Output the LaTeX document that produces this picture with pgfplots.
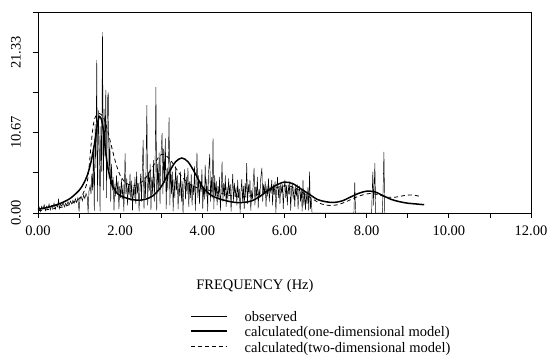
\documentclass[border=0pt]{standalone}
\usepackage{fontspec}
\setmainfont{Liberation Serif}
\usepackage{pgfplots}
\pgfplotsset{compat=1.18}
\newcommand{\lstrut}{\rule[-3.5pt]{0pt}{14.5pt}}
\begin{document}
\begin{tikzpicture}
\useasboundingbox (-38pt,-142pt) rectangle (515pt,213pt);
\begin{axis}[
  at={(0pt,0pt)}, anchor=south west,
  scale only axis, width=493pt, height=201pt,
  xmin=0, xmax=12, ymin=0, ymax=26.667,
  font=\fontsize{14.5}{16}\selectfont,
  /pgf/number format/assume math mode=true,
  axis line style={line width=0.9pt},
  tick style={line width=0.7pt, black},
  tick align=outside, tick pos=left,
  major tick length=5pt, minor tick length=5pt,
  xtick={0,2,4,6,8,10,12},
  xticklabels={0.00,2.00,4.00,6.00,8.00,10.00,12.00},
  minor xtick={1,3,5,7,9,11},
  ytick={0,5.333,10.667,16,21.333,26.667},
  yticklabels={0.00,,10.67,,21.33,},
  yticklabel style={rotate=90, anchor=south, inner sep=0pt},
  xticklabel style={anchor=north, inner sep=0pt},
  xticklabel shift=8pt, yticklabel shift=12pt,
  xlabel={FREQUENCY (Hz)},
  xlabel style={at={(axis description cs:0.44,-0.365)}, anchor=center},
  legend cell align=left,
  legend image code/.code={\draw[#1] (0pt,0.1em) -- (36pt,0.1em);},
  legend style={draw=none, fill=none, inner sep=0pt, row sep=3pt,
    column sep=17pt, nodes={inner sep=0pt},
    at={(axis description cs:0.3083,-0.484)}, anchor=north west,
    font=\fontsize{14.5}{16}\selectfont},
]
% observed
\addplot[black, line width=0.45pt] coordinates {
(0.00,0.4)(0.03,0.8)(0.06,0.2)(0.09,0.9)(0.12,0.5)(0.15,1.1)(0.18,0.3)(0.21,0.9)
(0.24,0.6)(0.27,1.2)(0.30,0.4)(0.33,1.0)(0.36,0.7)(0.39,1.3)(0.42,0.5)(0.45,1.1)
(0.48,0.8)(0.50,1.9)(0.52,0.6)(0.55,1.2)(0.58,0.9)(0.61,1.4)(0.64,0.8)(0.67,1.3)
(0.70,1.0)(0.73,1.5)(0.76,1.1)(0.79,1.6)(0.82,1.2)(0.85,1.7)(0.88,1.3)(0.91,1.9)
(0.94,1.4)(0.97,2.0)(1.00,0.2)(1.02,1.8)(1.05,2.2)(1.08,1.6)(1.11,2.4)(1.14,1.9)
(1.17,2.6)(1.20,2.1)(1.22,0.0)(1.24,2.9)(1.27,3.6)(1.29,2.5)(1.31,5.2)(1.33,3.0)
(1.35,8.5)(1.37,0.3)(1.39,11.8)(1.41,6.0)(1.43,20.3)(1.45,1.5)(1.47,13.6)(1.49,9.2)
(1.51,0.2)(1.53,11.5)(1.55,5.5)(1.57,24.0)(1.59,3.0)(1.61,13.8)(1.63,7.5)(1.65,16.3)
(1.67,2.0)(1.69,15.0)(1.71,16.0)(1.73,4.5)(1.75,9.5)(1.77,1.5)(1.79,6.5)(1.81,3.0)
(1.83,4.8)(1.85,0.3)(1.87,3.9)(1.89,2.2)(1.91,5.0)(1.93,2.8)(1.95,4.2)(1.97,0.5)
(1.99,3.6)(2.01,2.0)(2.03,4.5)(2.05,1.8)(2.07,3.8)(2.09,0.2)(2.11,5.0)(2.12,7.9)
(2.14,2.5)(2.16,4.6)(2.18,1.0)(2.20,3.8)(2.22,2.4)(2.24,5.2)(2.26,1.6)(2.28,4.3)
(2.30,0.3)(2.32,3.5)(2.34,2.0)(2.36,4.8)(2.38,1.2)(2.40,5.5)(2.42,2.6)(2.44,4.0)
(2.46,0.2)(2.48,3.2)(2.50,5.2)(2.52,1.5)(2.54,6.0)(2.56,9.7)(2.58,0.5)(2.60,4.8)
(2.62,2.0)(2.65,14.3)(2.67,1.0)(2.69,5.5)(2.71,3.0)(2.73,6.5)(2.75,0.4)(2.77,4.8)
(2.79,2.5)(2.81,7.0)(2.83,1.5)(2.85,5.8)(2.87,16.7)(2.89,0.3)(2.91,6.5)(2.93,3.2)
(2.95,8.0)(2.97,1.2)(2.99,7.2)(3.02,10.6)(3.04,2.5)(3.06,8.5)(3.08,4.0)(3.10,9.9)
(3.12,0.5)(3.14,6.0)(3.16,3.0)(3.19,12.7)(3.21,1.0)(3.23,6.8)(3.25,2.5)(3.27,5.5)
(3.29,0.2)(3.31,4.5)(3.33,2.0)(3.35,6.2)(3.37,3.0)(3.39,5.0)(3.41,0.5)(3.43,4.0)
(3.45,2.2)(3.47,5.5)(3.49,1.5)(3.51,4.2)(3.53,0.0)(3.55,3.5)(3.57,5.8)(3.59,1.8)
(3.61,4.8)(3.63,2.5)(3.65,6.0)(3.67,0.8)(3.69,4.2)(3.71,2.0)(3.73,5.2)(3.75,1.0)
(3.77,3.8)(3.79,2.4)(3.81,6.2)(3.83,0.3)(3.85,4.5)(3.87,8.0)(3.89,2.0)(3.91,5.0)
(3.93,1.2)(3.95,4.2)(3.97,2.8)(3.99,5.8)(4.01,0.5)(4.03,3.5)(4.05,1.8)(4.07,6.4)
(4.09,2.2)(4.11,4.5)(4.13,0.2)(4.15,5.2)(4.18,7.8)(4.20,1.5)(4.22,4.8)(4.24,2.0)
(4.26,9.9)(4.28,0.5)(4.30,5.0)(4.32,2.2)(4.34,4.2)(4.36,1.0)(4.38,3.6)(4.40,2.0)
(4.42,4.8)(4.44,0.3)(4.46,3.2)(4.48,6.8)(4.50,1.5)(4.52,4.0)(4.54,2.2)(4.56,5.0)
(4.58,0.8)(4.60,3.5)(4.62,1.8)(4.64,4.6)(4.66,2.5)(4.68,3.8)(4.70,0.2)(4.72,3.0)
(4.74,5.2)(4.76,1.5)(4.78,4.0)(4.80,2.2)(4.82,3.4)(4.84,1.0)(4.86,4.4)(4.88,2.0)
(4.90,3.2)(4.92,0.0)(4.94,2.8)(4.96,4.5)(4.98,1.5)(5.00,3.6)(5.02,0.5)(5.04,4.0)
(5.06,2.0)(5.08,6.6)(5.10,1.2)(5.12,3.8)(5.14,2.5)(5.16,4.4)(5.18,0.3)(5.20,3.0)
(5.22,1.8)(5.24,4.2)(5.26,6.0)(5.28,1.0)(5.30,3.5)(5.32,2.2)(5.34,4.8)(5.36,0.6)
(5.38,3.2)(5.40,2.0)(5.42,4.5)(5.45,6.0)(5.47,1.5)(5.49,3.8)(5.51,2.5)(5.53,4.2)
(5.55,0.8)(5.57,3.6)(5.59,2.2)(5.61,4.6)(5.63,1.5)(5.65,3.4)(5.67,2.8)(5.69,4.4)
(5.71,1.0)(5.73,3.8)(5.75,2.4)(5.77,4.2)(5.79,0.0)(5.81,3.0)(5.83,4.8)(5.85,2.0)
(5.87,3.6)(5.89,1.2)(5.91,4.0)(5.93,2.6)(5.95,3.8)(5.97,0.5)(5.99,3.2)(6.01,4.4)
(6.03,2.0)(6.05,3.6)(6.07,1.0)(6.09,3.8)(6.11,2.5)(6.13,4.2)(6.15,0.3)(6.17,3.0)
(6.19,4.0)(6.21,1.8)(6.23,3.4)(6.25,0.8)(6.27,3.6)(6.29,2.2)(6.31,3.8)(6.33,0.5)
(6.35,2.8)(6.37,3.6)(6.39,1.5)(6.41,3.2)(6.43,0.2)(6.45,4.4)(6.47,1.0)(6.49,3.0)
(6.51,0.4)(6.53,2.6)(6.55,1.2)(6.57,3.4)(6.59,0.3)(6.61,5.5)(6.63,0.5)(6.65,2.0)
(6.67,0.0)(6.70,0.0)(7.69,0.0)(7.71,4.1)(7.73,0.0)(8.12,0.0)(8.15,5.5)(8.17,1.0)
(8.20,6.6)(8.22,0.0)(8.38,0.0)(8.40,3.0)(8.42,8.1)(8.44,0.0)(8.46,0.0)
};
\addlegendentry{\lstrut observed}
% one-dimensional model
\addplot[black, line width=1.5pt, smooth] coordinates {
(0.0,0.5)(0.2,0.7)(0.4,1.0)(0.6,1.4)(0.8,2.0)(1.0,3.0)(1.1,3.8)(1.2,5.0)
(1.3,7.0)(1.4,10.0)(1.45,12.0)(1.5,12.8)(1.55,12.3)(1.6,10.5)(1.65,8.0)(1.7,6.0)
(1.8,3.8)(1.9,2.8)(2.0,2.3)(2.2,1.9)(2.4,1.7)(2.6,1.8)(2.8,2.3)(3.0,3.5)
(3.2,5.5)(3.35,6.8)(3.5,7.3)(3.65,6.8)(3.8,5.5)(4.0,3.5)(4.2,2.4)(4.4,1.9)
(4.6,1.6)(4.8,1.4)(5.0,1.4)(5.2,1.6)(5.4,2.2)(5.6,3.0)(5.8,3.7)(6.0,4.1)
(6.2,3.9)(6.4,3.2)(6.6,2.5)(6.8,1.8)(7.0,1.5)(7.2,1.4)(7.4,1.6)(7.6,2.1)
(7.8,2.6)(8.0,2.9)(8.2,2.8)(8.4,2.3)(8.6,1.8)(8.8,1.5)(9.0,1.3)(9.2,1.2)(9.4,1.1)
};
\addlegendentry{\lstrut calculated(one-dimensional model)}
% two-dimensional model
\addplot[black, line width=0.8pt, dash pattern=on 4pt off 3pt, smooth] coordinates {
(0.0,0.3)(0.3,0.5)(0.6,0.8)(0.8,1.2)(1.0,1.9)(1.1,2.6)(1.2,4.2)(1.25,6.5)
(1.3,9.5)(1.35,11.8)(1.4,12.8)(1.5,13.2)(1.6,12.6)(1.7,10.8)(1.8,8.6)(1.9,6.5)
(2.0,5.0)(2.1,4.2)(2.2,3.8)(2.4,3.7)(2.6,4.5)(2.8,6.2)(2.95,7.5)(3.05,7.8)
(3.2,7.2)(3.35,6.0)(3.5,4.8)(3.7,3.8)(3.9,3.3)(4.1,3.1)(4.4,2.7)(4.7,2.3)
(5.0,2.2)(5.3,2.4)(5.6,3.0)(5.9,3.5)(6.1,3.6)(6.3,3.2)(6.5,2.5)(6.7,1.8)
(6.9,1.2)(7.1,1.0)(7.3,1.1)(7.5,1.5)(7.7,2.0)(7.9,2.4)(8.1,2.6)(8.3,2.4)
(8.5,2.1)(8.7,2.1)(8.9,2.3)(9.1,2.4)(9.3,2.2)
};
\addlegendentry{\lstrut calculated(two-dimensional model)}
\end{axis}
\end{tikzpicture}
\end{document}
